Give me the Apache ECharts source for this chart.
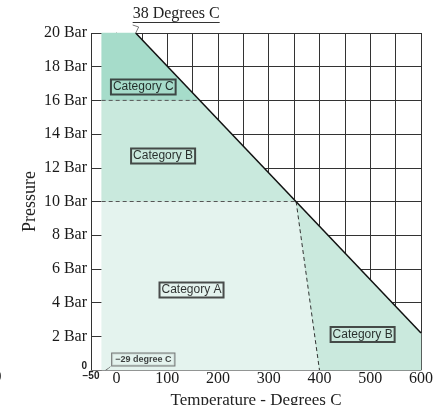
<!DOCTYPE html>
<html><head><meta charset="utf-8">
<script src="https://cdn.jsdelivr.net/npm/echarts@6/dist/echarts.min.js"></script>
<style>html,body{margin:0;padding:0;background:#fff}#c{width:444px;height:405px}</style>
</head><body><div id="c"></div>
<script>
// Region boundaries: [temperature °C, pressure bar]
const categoryC      = [[-29,16],[-29,20],[38,20],[164,16]];
const categoryBUpper = [[-29,10],[-29,16],[164,16],[354,10]];
const categoryA      = [[-29,0],[-29,10],[354,10],[400,0]];
const categoryBLower = [[354,10],[600,2.2],[600,0],[400,0]];
const limitLine   = [[38,20],[600,2.2]];
const boundary16  = [[-29,16],[164,16]];
const boundary10  = [[-29,10],[354,10]];
const boundaryA   = [[354,10],[400,0]];
const regionNames = ['Category C','Category B','Category A','Category B'];
const labelAnchors = [[53,16.8],[92,12.7],[148,4.75],[485,2.1]];
const minTempPoint = [-29,0];
const minTempText  = '\u221229 degree C';
const minTempAnchor = [53,0.62];
const maxTempPoint = [38,20];
const maxTempText  = '38 Degrees C';
const xAxisTitle = 'Temperature - Degrees C';
const yAxisTitle = 'Pressure';

const regions = [categoryC, categoryBUpper, categoryA, categoryBLower];
const regionColors = ['#a6dcca','#c9e9dd','#e4f3ee','#cae9dd'];

const chart = echarts.init(document.getElementById('c'), null, {renderer:'canvas'});
const serif = 'Liberation Serif';
const sans = 'Liberation Sans';

chart.setOption({
  animation:false,
  backgroundColor:'#fff',
  grid:{left:91,right:23,top:33,bottom:35,outerBoundsMode:'none',containLabel:false},
  xAxis:{
    type:'value',min:-50,max:600,interval:50,
    axisLine:{show:true,lineStyle:{color:'#777',width:1}},
    axisTick:{show:false},
    splitLine:{show:true,lineStyle:{color:'#333',width:1}},
    axisLabel:{
      margin:1,color:'#1a1a1a',fontFamily:serif,fontSize:16,
      formatter:v=> v===-50 ? '{b|\u221250}' : (v%100===0 ? String(v) : ''),
      rich:{b:{fontFamily:sans,fontWeight:'bold',fontSize:10,color:'#222'}}
    },
    name:xAxisTitle,nameLocation:'middle',nameGap:22,nameMoveOverlap:false,
    nameTextStyle:{fontFamily:serif,fontSize:17,color:'#222'}
  },
  yAxis:{
    type:'value',min:0,max:20,interval:2,
    axisLine:{show:true,lineStyle:{color:'#777',width:1}},
    axisTick:{show:false},
    splitLine:{show:true,lineStyle:{color:'#333',width:1}},
    axisLabel:{
      margin:4,color:'#1a1a1a',fontFamily:serif,fontSize:16,
      formatter:v=> v===0 ? '{b|0}' : v+' Bar',
      rich:{b:{fontFamily:sans,fontWeight:'bold',fontSize:10,color:'#222',padding:[0,0,8,0]}}
    },
    name:yAxisTitle,nameLocation:'middle',nameGap:52,nameMoveOverlap:false,
    nameTextStyle:{fontFamily:serif,fontSize:18,color:'#222'}
  },
  series:[
    {
      type:'custom',
      data:regions.map((r,i)=>[i]),
      renderItem:(params,api)=>{
        const pts = regions[params.dataIndex].map(p=>api.coord(p));
        return {type:'polygon',shape:{points:pts},
          style:{fill:regionColors[params.dataIndex],stroke:regionColors[params.dataIndex],lineWidth:0.5}};
      },
      silent:true,z:2
    },
    {type:'line',data:boundary16,symbol:'none',lineStyle:{color:'#555',width:1,type:[4,3]},z:3,silent:true},
    {type:'line',data:boundary10,symbol:'none',lineStyle:{color:'#555',width:1,type:[4,3]},z:3,silent:true},
    {type:'line',data:boundaryA,symbol:'none',lineStyle:{color:'#333',width:1,type:[4,3]},z:3,silent:true},
    {type:'line',data:limitLine,symbol:'none',lineStyle:{color:'#111',width:1.5},z:4,silent:true},
    {
      type:'scatter',symbolSize:0,z:5,silent:true,
      data:regionNames.map((n,i)=>({name:n,value:labelAnchors[i]})),
      label:{show:true,position:'inside',formatter:p=>p.name,
        fontFamily:sans,fontSize:12,color:'#000',
        borderColor:'#222',borderWidth:1,padding:[2,2,1,2],backgroundColor:'transparent'}
    },
    {
      type:'scatter',symbolSize:0,z:5,silent:true,
      data:[{name:minTempText,value:minTempAnchor}],
      label:{show:true,position:'inside',formatter:p=>p.name,
        fontFamily:sans,fontWeight:'bold',fontSize:9,color:'#111',
        borderColor:'#555',borderWidth:1,padding:[2,3,1,3],backgroundColor:'#e4f3ee'}
    }
  ]
});

const pMax = chart.convertToPixel({gridIndex:0}, maxTempPoint);
const pMin = chart.convertToPixel({gridIndex:0}, minTempPoint);
const pMinLbl = chart.convertToPixel({gridIndex:0}, minTempAnchor);
chart.setOption({
  graphic:[
    {type:'text',left:pMax[0]-3,top:pMax[1]-27,z:10,
      style:{text:maxTempText,fontFamily:serif,fontSize:16,fill:'#222'}},
    {type:'line',z:10,shape:{x1:pMax[0]-3,y1:pMax[1]-10.5,x2:pMax[0]+84,y2:pMax[1]-10.5},style:{stroke:'#333',lineWidth:1}},
    {type:'polyline',z:10,shape:{points:[[pMax[0]-3,pMax[1]-8],[pMax[0]+3,pMax[1]-6],[pMax[0],pMax[1]]]},style:{stroke:'#555',lineWidth:0.8,fill:null}},
    {type:'polyline',z:10,shape:{points:[[pMinLbl[0]-33,pMinLbl[1]+7],[pMinLbl[0]-35,pMinLbl[1]+9],[pMin[0]+4,pMin[1]]]},style:{stroke:'#555',lineWidth:0.8,fill:null}},
    {type:'text',left:-6,top:370,z:10,style:{text:'0',fontFamily:serif,fontSize:15,fill:'#333'}}
  ]
});
</script></body></html>
